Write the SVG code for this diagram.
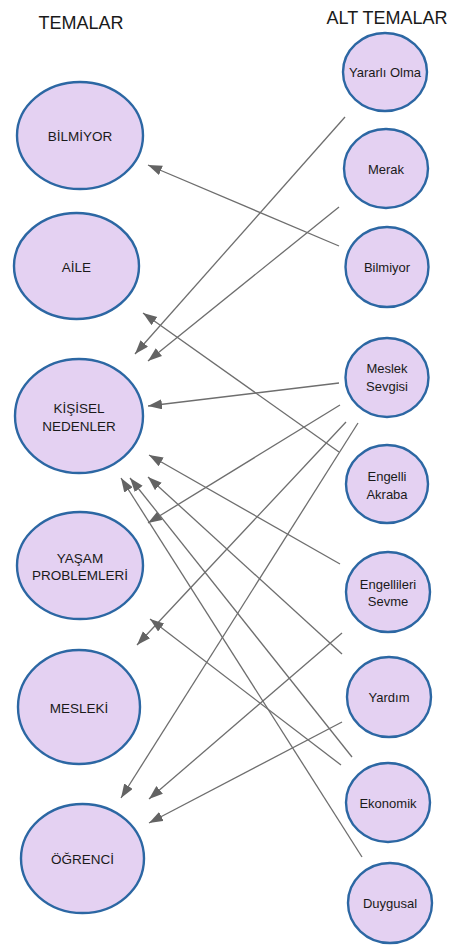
<svg xmlns="http://www.w3.org/2000/svg" width="455" height="947" viewBox="0 0 455 947">
  <style>
    .node ellipse { fill: #e4d1f2; stroke: #2c67a3; stroke-width: 2.4; }
    .title { font-family: "Liberation Sans", Arial, sans-serif; font-size: 18px; fill: #1a1a1a; text-anchor: middle; }
    .theme { font-family: "Liberation Sans", Arial, sans-serif; font-size: 13.5px; fill: #1a1a1a; text-anchor: middle; }
    .sub { font-family: "Liberation Sans", Arial, sans-serif; font-size: 13px; fill: #1a1a1a; text-anchor: middle; }
    .edge { stroke: #6e6e6e; stroke-width: 1.3; fill: none; marker-end: url(#head); }
  </style>
  <defs>
    <marker id="head" markerUnits="userSpaceOnUse" markerWidth="15" markerHeight="11" refX="14" refY="5" orient="auto">
      <path d="M0,0 L14,5 L0,10 z" fill="#636363"/>
    </marker>
  </defs>
  <rect width="455" height="947" fill="#ffffff"/>

  <text class="title" x="81" y="29">TEMALAR</text>
  <text class="title" x="387" y="24">ALT TEMALAR</text>

  <!-- themes (left column) -->
  <g id="t-bilmiyor" class="node">
    <ellipse cx="80" cy="135.5" rx="63" ry="53.5"/>
    <text class="theme" x="80" y="141">BİLMİYOR</text>
  </g>
  <g id="t-aile" class="node">
    <ellipse cx="76.5" cy="266" rx="62.5" ry="53"/>
    <text class="theme" x="76.5" y="272">AİLE</text>
  </g>
  <g id="t-kisisel" class="node">
    <ellipse cx="79" cy="416" rx="64" ry="57"/>
    <text class="theme" x="79" y="413">KİŞİSEL</text>
    <text class="theme" x="79" y="431">NEDENLER</text>
  </g>
  <g id="t-yasam" class="node">
    <ellipse cx="80" cy="565.5" rx="63" ry="53.5"/>
    <text class="theme" x="80" y="563">YAŞAM</text>
    <text class="theme" x="80" y="580">PROBLEMLERİ</text>
  </g>
  <g id="t-mesleki" class="node">
    <ellipse cx="79" cy="707" rx="61" ry="57"/>
    <text class="theme" x="79" y="713">MESLEKİ</text>
  </g>
  <g id="t-ogrenci" class="node">
    <ellipse cx="82.5" cy="858.5" rx="61.5" ry="54.5"/>
    <text class="theme" x="82.5" y="864">ÖĞRENCİ</text>
  </g>

  <!-- sub-themes (right column) -->
  <g id="s-yararli" class="node">
    <ellipse cx="385" cy="72" rx="42" ry="39"/>
    <text class="sub" x="385" y="77">Yararlı Olma</text>
  </g>
  <g id="s-merak" class="node">
    <ellipse cx="386" cy="168.5" rx="42" ry="39.5"/>
    <text class="sub" x="386" y="174">Merak</text>
  </g>
  <g id="s-bilmiyor" class="node">
    <ellipse cx="387" cy="267" rx="41.5" ry="40"/>
    <text class="sub" x="387" y="272">Bilmiyor</text>
  </g>
  <g id="s-meslek" class="node">
    <ellipse cx="387" cy="377.5" rx="41.5" ry="39.5"/>
    <text class="sub" x="387" y="373">Meslek</text>
    <text class="sub" x="387" y="391">Sevgisi</text>
  </g>
  <g id="s-akraba" class="node">
    <ellipse cx="387" cy="484" rx="41" ry="39"/>
    <text class="sub" x="387" y="481">Engelli</text>
    <text class="sub" x="387" y="499">Akraba</text>
  </g>
  <g id="s-sevme" class="node">
    <ellipse cx="388" cy="592" rx="42" ry="40"/>
    <text class="sub" x="388" y="589">Engellileri</text>
    <text class="sub" x="388" y="606">Sevme</text>
  </g>
  <g id="s-yardim" class="node">
    <ellipse cx="389" cy="697" rx="42" ry="40"/>
    <text class="sub" x="389" y="702">Yardım</text>
  </g>
  <g id="s-ekonomik" class="node">
    <ellipse cx="388" cy="802.5" rx="42" ry="39.5"/>
    <text class="sub" x="388" y="808">Ekonomik</text>
  </g>
  <g id="s-duygusal" class="node">
    <ellipse cx="390" cy="903" rx="42" ry="40"/>
    <text class="sub" x="390" y="908">Duygusal</text>
  </g>

  <!-- connectors: sub-theme to theme -->
  <g id="connectors">
    <line class="edge" x1="345" y1="117" x2="135" y2="354"/>
    <line class="edge" x1="339" y1="207" x2="148" y2="361"/>
    <line class="edge" x1="339" y1="246" x2="148" y2="165"/>
    <line class="edge" x1="339" y1="452" x2="143" y2="313"/>
    <line class="edge" x1="339" y1="383" x2="148" y2="406"/>
    <line class="edge" x1="340" y1="405" x2="148" y2="523"/>
    <line class="edge" x1="346" y1="422" x2="137" y2="645"/>
    <line class="edge" x1="358" y1="423" x2="121" y2="798"/>
    <line class="edge" x1="340" y1="564" x2="149" y2="455"/>
    <line class="edge" x1="342" y1="654" x2="148" y2="477"/>
    <line class="edge" x1="352" y1="757" x2="130" y2="478"/>
    <line class="edge" x1="362" y1="857" x2="121" y2="478"/>
    <line class="edge" x1="341" y1="765" x2="150" y2="619"/>
    <line class="edge" x1="342" y1="633" x2="149" y2="799"/>
    <line class="edge" x1="342" y1="722" x2="149" y2="823"/>
  </g>
</svg>
